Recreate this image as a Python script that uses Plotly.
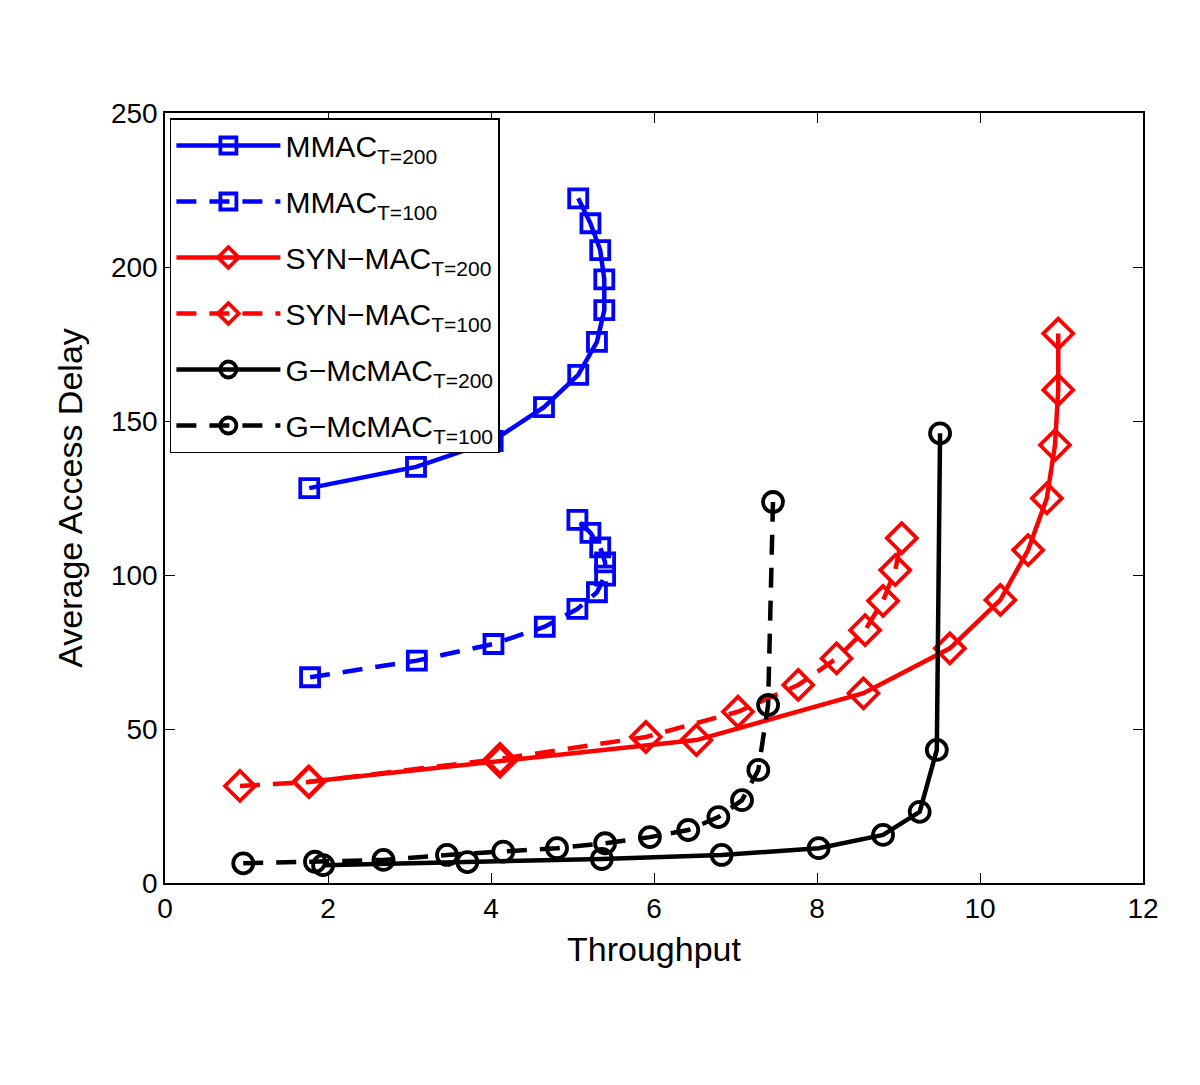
import plotly.graph_objects as go

# ---- data ----
mmac200_x = [1.77, 3.08, 4.02, 4.65, 5.07, 5.30, 5.39, 5.39, 5.34, 5.22, 5.07]
mmac200_y = [128.2, 135.1, 143.5, 154.5, 165.0, 175.7, 186.0, 196.0, 205.5, 214.2, 222.3]

mmac100_x = [1.78, 3.09, 4.03, 4.66, 5.06, 5.30, 5.40, 5.40, 5.34, 5.22, 5.06]
mmac100_y = [66.8, 72.2, 77.6, 83.2, 89.0, 94.4, 99.8, 104.1, 109.0, 113.7, 117.9]

syn200_x = [1.76, 4.11, 6.52, 8.57, 9.63, 10.25, 10.59, 10.82, 10.92, 10.96, 10.96]
syn200_y = [32.9, 39.4, 46.4, 61.6, 76.2, 91.9, 108.1, 124.9, 142.2, 160.1, 178.4]

syn100_x = [0.92, 1.77, 4.11, 5.90, 7.03, 7.77, 8.24, 8.59, 8.81, 8.96, 9.04]
syn100_y = [31.5, 32.8, 40.3, 47.4, 55.6, 64.3, 72.9, 82.1, 91.6, 101.6, 112.0]

gmc200_x = [1.94, 3.71, 5.36, 6.83, 8.02, 8.81, 9.26, 9.47, 9.51]
gmc200_y = [5.8, 6.8, 7.8, 9.1, 11.3, 15.6, 23.1, 43.2, 146.0]

gmc100_x = [0.96, 1.84, 2.68, 3.46, 4.15, 4.81, 5.40, 5.95, 6.42, 6.79, 7.08, 7.28, 7.40, 7.46]
gmc100_y = [6.4, 6.9, 7.5, 9.1, 10.2, 11.3, 12.9, 14.9, 17.2, 21.4, 26.9, 36.7, 57.8, 123.7]

x_ticks = [0, 2, 4, 6, 8, 10, 12]
y_ticks = [0, 50, 100, 150, 200, 250]

names = ["MMAC<sub>T=200</sub>", "MMAC<sub>T=100</sub>",
         "SYN\u2212MAC<sub>T=200</sub>", "SYN\u2212MAC<sub>T=100</sub>",
         "G\u2212McMAC<sub>T=200</sub>", "G\u2212McMAC<sub>T=100</sub>"]

BLUE = "#0000ff"
RED = "#ff0000"
BLACK = "#000000"
DASH = "20px,13px"

series = [
    (mmac200_x, mmac200_y, BLUE, "solid", "square-open", 18),
    (mmac100_x, mmac100_y, BLUE, DASH, "square-open", 18),
    (syn200_x, syn200_y, RED, "solid", "diamond-open", 23),
    (syn100_x, syn100_y, RED, DASH, "diamond-open", 23),
    (gmc200_x, gmc200_y, BLACK, "solid", "circle-open", 20),
    (gmc100_x, gmc100_y, BLACK, DASH, "circle-open", 20),
]

fig = go.Figure()
for i, ((xs, ys, col, dash, sym, sz), nm) in enumerate(zip(series, names)):
    fig.add_trace(go.Scatter(
        x=xs, y=ys, name=nm, mode="lines+markers", legendgroup="g%d" % i,
        line=dict(color=col, width=4.5, dash=dash),
        marker=dict(symbol=sym, size=sz, color=col, line=dict(color=col, width=3.8)),
    ))

axis_common = dict(
    showgrid=False, zeroline=False, showline=True, linecolor="black", linewidth=1.5,
    mirror="allticks", ticks="inside", ticklen=10, tickwidth=1.2, tickcolor="black",
    tickfont=dict(family="Liberation Sans, Arial, sans-serif", size=28, color="black"),
)

fig.update_layout(
    width=1200, height=1085,
    margin=dict(l=157, r=65, t=105, b=210),
    paper_bgcolor="white", plot_bgcolor="white",
    font=dict(family="Liberation Sans, Arial, sans-serif", color="black"),
    xaxis=dict(range=[0, 12], tickvals=x_ticks,
               title=dict(text="Throughput", font=dict(size=34), standoff=14),
               **axis_common),
    yaxis=dict(range=[0, 250], tickvals=y_ticks,
               title=dict(text="Average Access Delay", font=dict(size=34), standoff=18),
               **axis_common),
    legend=dict(x=0.005, y=0.9935, xanchor="left", yanchor="top",
                bgcolor="white", bordercolor="black", borderwidth=1.5,
                font=dict(size=30, color="black"), itemwidth=104,
                tracegroupgap=14),
    showlegend=True,
)

fig.write_html("out.html")
